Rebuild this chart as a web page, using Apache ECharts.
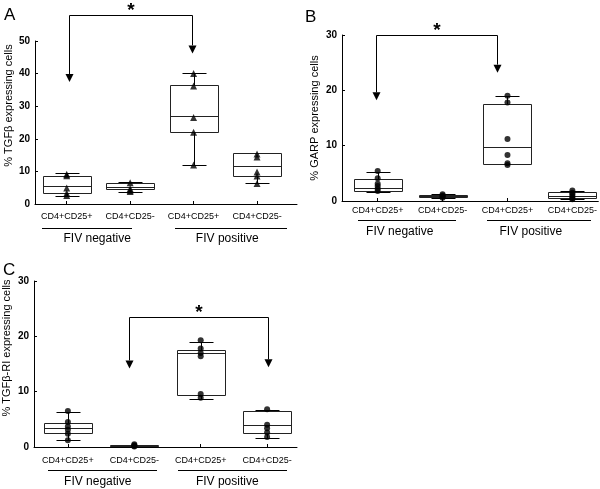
<!DOCTYPE html>
<html>
<head>
<meta charset="utf-8">
<script src="https://cdn.jsdelivr.net/npm/echarts@6/dist/echarts.min.js"></script>
<style>
html, body { margin: 0; padding: 0; background: #fff; }
#chart { width: 600px; height: 489px; }
</style>
</head>
<body>
<div id="chart"></div>
<script>
var categories = ['CD4+CD25+', 'CD4+CD25-', 'CD4+CD25+', 'CD4+CD25-'];
var groupNames = ['FIV negative', 'FIV positive'];
var yTitles = ['% TGFβ expressing cells', '% GARP expressing cells', '% TGFβ-RI expressing cells'];

// box stats per panel: [category, min, q1, median, q3, max]
var boxA = [[1, 2.4, 3.5, 5.6, 8.7, 9.4], [2, 3.8, 4.6, 5.2, 6.3, 6.6], [3, 11.9, 22.2, 26.9, 36.5, 40.3], [4, 6.3, 8.7, 11.7, 15.5, 15.5]];
var boxB = [[1, 1.7, 1.8, 2.3, 3.9, 5.3], [2, 0.6, 0.7, 0.9, 1.0, 1.2], [3, 6.7, 6.7, 9.8, 17.6, 18.9], [4, 0.3, 0.5, 0.9, 1.6, 1.8]];
var boxC = [[1, 1.3, 2.5, 3.4, 4.4, 6.4], [2, 0.1, 0.15, 0.25, 0.35, 0.45], [3, 8.6, 9.4, 17.0, 17.5, 19.0], [4, 1.7, 2.6, 3.9, 6.5, 6.7]];

// individual animals
var pointsA = [[1, 9.1], [1, 8.7], [1, 4.9], [1, 3.3], [1, 2.6],
               [2, 6.5], [2, 4.7], [2, 4.2], [2, 3.8],
               [3, 40.0], [3, 36.2], [3, 26.5], [3, 22.0], [3, 12.0],
               [4, 15.3], [4, 14.4], [4, 9.8], [4, 8.6], [4, 6.3]];
var pointsB = [[1, 5.4], [1, 4.1], [1, 3.1], [1, 2.7], [1, 2.2], [1, 1.8],
               [2, 1.2], [2, 1.0], [2, 0.8], [2, 0.6],
               [3, 19.0], [3, 17.8], [3, 11.2], [3, 8.3], [3, 6.8], [3, 6.5],
               [4, 1.9], [4, 1.5], [4, 1.2], [4, 0.8], [4, 0.5], [4, 0.3]];
var pointsC = [[1, 6.5], [1, 4.5], [1, 3.7], [1, 3.1], [1, 2.4], [1, 1.2],
               [2, 0.5], [2, 0.3], [2, 0.2], [2, 0.1],
               [3, 19.3], [3, 17.8], [3, 17.0], [3, 16.4], [3, 9.6], [3, 8.9],
               [4, 6.8], [4, 4.0], [4, 3.4], [4, 2.6], [4, 1.8]];

// significance brackets: [x left, x right, left tip, right tip, top]
var bracketA = [[1.03, 2.97, 37.4, 46.2, 57.9]];
var bracketB = [[0.97, 2.84, 18.2, 23.2, 30.0]];
var bracketC = [[1.92, 4.01, 14.2, 14.4, 23.5]];

// group underline: [line start, line end, text centre]
var groupsA = [[0.61, 2.03, 1.48], [2.71, 4.47, 3.53]];
var groupsB = [[0.70, 2.21, 1.34], [2.69, 4.29, 3.36]];
var groupsC = [[0.70, 2.34, 1.45], [2.66, 4.30, 3.40]];

var FONT = 'Liberation Sans, Arial, sans-serif';
var myChart = echarts.init(document.getElementById('chart'));

// snap to pixel centre so 1px lines stay crisp
function px(v) { return Math.round(v) + 0.5; }

function renderBox(params, api) {
    var x = api.value(0);
    var lo = api.coord([x, api.value(1)]);
    var q1 = api.coord([x, api.value(2)]);
    var md = api.coord([x, api.value(3)]);
    var q3 = api.coord([x, api.value(4)]);
    var hi = api.coord([x, api.value(5)]);
    var cx = px(lo[0]), w = 48, c = 12;
    var yl = px(lo[1]), yh = px(hi[1]), y1 = px(q1[1]), y3 = px(q3[1]), ym = px(md[1]);
    var ls = { stroke: '#000', lineWidth: 1 };
    return {
        type: 'group',
        children: [
            { type: 'line', shape: { x1: cx, y1: yh, x2: cx, y2: yl }, style: ls },
            { type: 'line', shape: { x1: cx - c, y1: yh, x2: cx + c, y2: yh }, style: ls },
            { type: 'line', shape: { x1: cx - c, y1: yl, x2: cx + c, y2: yl }, style: ls },
            { type: 'rect', shape: { x: cx - w / 2, y: y3, width: w, height: y1 - y3 },
              style: { fill: '#fff', stroke: '#222', lineWidth: 1 } },
            { type: 'line', shape: { x1: cx - w / 2, y1: ym, x2: cx + w / 2, y2: ym }, style: { stroke: '#222', lineWidth: 1 } }
        ]
    };
}

function renderBracket(params, api) {
    var top = api.value(4);
    var l = api.coord([api.value(0), api.value(2)]);
    var r = api.coord([api.value(1), api.value(3)]);
    var lt = api.coord([api.value(0), top]);
    var rt = api.coord([api.value(1), top]);
    var lx = px(l[0]), rx = px(r[0]), ty = px(lt[1]);
    var ah = 8, aw = 4;
    var ls = { stroke: '#000', lineWidth: 1, fill: null };
    return {
        type: 'group',
        children: [
            { type: 'polyline', shape: { points: [[lx, l[1] - ah], [lx, ty], [rx, ty], [rx, r[1] - ah]] }, style: ls },
            { type: 'polygon', shape: { points: [[lx, l[1]], [lx - aw, l[1] - ah], [lx + aw, l[1] - ah]] }, style: { fill: '#000' } },
            { type: 'polygon', shape: { points: [[rx, r[1]], [rx - aw, r[1] - ah], [rx + aw, r[1] - ah]] }, style: { fill: '#000' } },
            { type: 'text', x: (lx + rx) / 2, y: ty - 5,
              style: { text: '*', fill: '#000', font: 'bold 19px ' + FONT, align: 'center', verticalAlign: 'middle' } }
        ]
    };
}

function groupRenderer(lineOff, textOff) {
    return function (params, api) {
        var a = api.coord([api.value(0), 0]);
        var b = api.coord([api.value(1), 0]);
        var t = api.coord([api.value(2), 0]);
        var ly = px(a[1] + lineOff);
        return {
            type: 'group',
            children: [
                { type: 'line', shape: { x1: Math.round(a[0]), y1: ly, x2: Math.round(b[0]), y2: ly }, style: { stroke: '#000', lineWidth: 1 } },
                { type: 'text', x: t[0], y: t[1] + textOff,
                  style: { text: groupNames[params.dataIndex], fill: '#000', font: '12px ' + FONT, align: 'center', verticalAlign: 'middle' } }
            ]
        };
    };
}

function xAxisFor(gridIndex, min, max, margin) {
    return {
        type: 'value', gridIndex: gridIndex, min: min, max: max,
        splitLine: { show: false },
        axisLine: { lineStyle: { color: '#000', width: 1 } },
        axisTick: { inside: true, length: 3, customValues: [1, 2, 3, 4], lineStyle: { color: '#000' } },
        axisLabel: {
            customValues: [1, 2, 3, 4], margin: margin, fontSize: 9, color: '#000', fontFamily: FONT,
            formatter: function (v) { return categories[Math.round(v) - 1]; }
        }
    };
}

function yAxisFor(gridIndex, max, name, gap, shift) {
    return {
        type: 'value', gridIndex: gridIndex, min: 0, max: max, interval: 10,
        name: name, nameLocation: 'middle', nameGap: gap, nameRotate: 90,
        nameTextStyle: { fontSize: 11, color: '#000', fontFamily: FONT, padding: [0, 0, 0, shift] },
        splitLine: { show: false },
        axisLine: { show: true, lineStyle: { color: '#000', width: 1 } },
        axisTick: { show: true, inside: true, length: 3, lineStyle: { color: '#000' } },
        axisLabel: { margin: 5, fontSize: 10, fontWeight: 'bold', color: '#000', fontFamily: FONT }
    };
}

function panelSeries(i, boxes, points, symbol, symbolSize, bracket, groups, lineOff, textOff) {
    return [
        { type: 'custom', xAxisIndex: i, yAxisIndex: i, renderItem: renderBox, data: boxes,
          encode: { x: 0, y: [1, 2, 3, 4, 5] }, z: 2 },
        { type: 'scatter', xAxisIndex: i, yAxisIndex: i, data: points, symbol: symbol, symbolSize: symbolSize,
          itemStyle: { color: '#000' }, z: 3 },
        { type: 'custom', xAxisIndex: i, yAxisIndex: i, renderItem: renderBracket, data: bracket,
          encode: { x: [0, 1], y: [2, 3] }, clip: false, z: 4 },
        { type: 'custom', xAxisIndex: i, yAxisIndex: i, renderItem: groupRenderer(lineOff, textOff), data: groups,
          encode: { x: [0, 1, 2] }, clip: false, z: 4 }
    ];
}

var letterStyle = { fontSize: 17, fontWeight: 'normal', color: '#000', fontFamily: FONT };

var option = {
    backgroundColor: '#fff',
    animation: false,
    title: [
        { text: 'A', left: 4, top: 7, padding: 0, textStyle: letterStyle },
        { text: 'B', left: 305, top: 9, padding: 0, textStyle: letterStyle },
        { text: 'C', left: 3, top: 262, padding: 0, textStyle: letterStyle }
    ],
    grid: [
        { left: 35, top: 41, width: 262, height: 163 },
        { left: 342, top: 35, width: 258, height: 166 },
        { left: 34, top: 281, width: 263, height: 166 }
    ],
    xAxis: [
        xAxisFor(0, 0.5, 4.63, 8),
        xAxisFor(1, 0.45, 4.4, 5),
        xAxisFor(2, 0.49, 4.45, 9)
    ],
    yAxis: [
        yAxisFor(0, 50, yTitles[0], 21, 34),
        yAxisFor(1, 30, yTitles[1], 22, 0),
        yAxisFor(2, 30, yTitles[2], 22, 32)
    ],
    series: [].concat(
        panelSeries(0, boxA, pointsA, 'triangle', 7, bracketA, groupsA, 24, 35),
        panelSeries(1, boxB, pointsB, 'circle', 6, bracketB, groupsB, 19, 31),
        panelSeries(2, boxC, pointsC, 'circle', 6, bracketC, groupsC, 23, 35)
    )
};

myChart.setOption(option);
</script>
</body>
</html>
